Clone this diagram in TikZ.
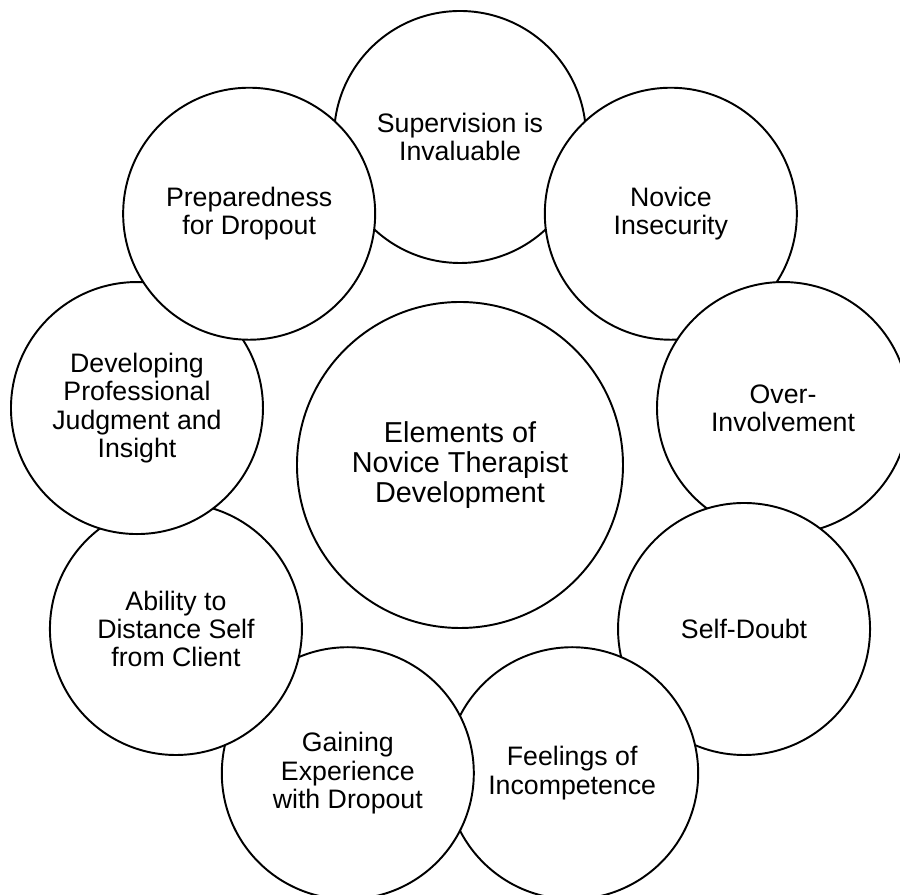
\documentclass[tikz,border=0pt]{standalone}
\usepackage{fontspec}
\setmainfont{Liberation Sans}
\usetikzlibrary{shapes}

\begin{document}
\begin{tikzpicture}
[x=1cm,y=1cm]
\tikzset{
	theme/.style = {circle, draw, fill = white, line width = 1.1pt, inner sep = 0, minimum size = 50.4mm, align = center, font = \fontsize{15.2}{16.1}\selectfont},
	core/.style = {theme, minimum size = 65.2mm, font = \fontsize{16.4}{17}\selectfont}
}

\useasboundingbox (-9.2,-8.6) rectangle (8.8,9.3);

\node(centre) [core] at (0,0) {Elements of\\Novice Therapist\\Development};

% ring of themes, clockwise from the top, each one over the last
\node(super) [theme] at (90:6.56) {Supervision is\\Invaluable};
\node(insec) [theme] at (50:6.56) {Novice\\Insecurity};
\node(over) [theme] at (10:6.56) {Over-\\Involvement};
\node(doubt) [theme] at (-30:6.56) {Self-Doubt};
\node(incomp) [theme] at (-70:6.56) {Feelings of\\Incompetence};
\node(gain) [theme] at (-110:6.56) {Gaining\\Experience\\with Dropout};
\node(dist) [theme] at (-150:6.56) {Ability to\\Distance Self\\from Client};
\node(judge) [theme] at (170:6.56) {Developing\\Professional\\Judgment and\\Insight};
\node(prep) [theme] at (130:6.56) {Preparedness\\for Dropout};
\end{tikzpicture}
\end{document}
